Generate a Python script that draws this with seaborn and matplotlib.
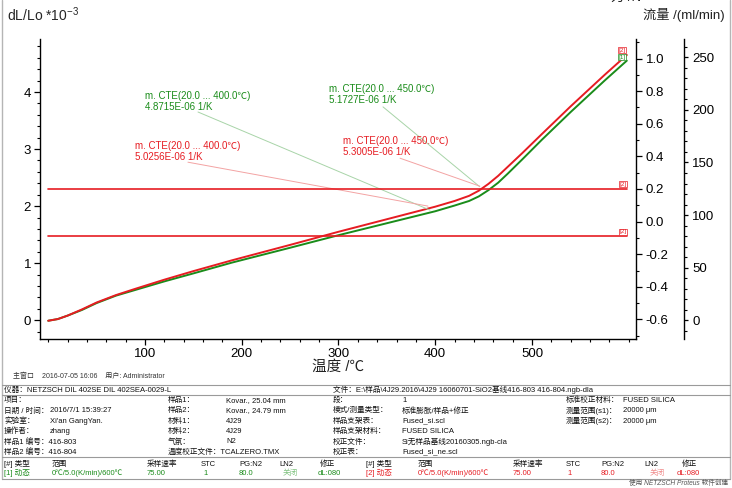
import numpy as np
import pandas as pd
import matplotlib
matplotlib.use("Agg")
import matplotlib.pyplot as plt
import seaborn as sns
from matplotlib.lines import Line2D
from matplotlib.ticker import MultipleLocator

# ---------------- data ----------------
temperature = [0, 10, 20, 35, 50, 70, 90, 120, 150, 190, 250, 300, 350, 400,
               420, 435, 445, 455, 465, 475, 490, 510, 540, 575, 598]
dl_sample1 = [-0.01, 0.02, 0.08, 0.18, 0.30, 0.43, 0.53, 0.68, 0.82, 1.01, 1.27,
              1.49, 1.70, 1.91, 2.01, 2.09, 2.17, 2.28, 2.41, 2.57, 2.82, 3.16,
              3.65, 4.20, 4.55]
dl_sample2 = [-0.01, 0.02, 0.08, 0.19, 0.31, 0.44, 0.55, 0.71, 0.86, 1.05, 1.32,
              1.55, 1.77, 1.99, 2.09, 2.18, 2.27, 2.39, 2.53, 2.69, 2.93, 3.26,
              3.75, 4.30, 4.65]
force_setpoint = [0.2, 0.2]      # N, sample [2] (sample [1] identical, hidden behind)
flow_setpoint = [80.0, 80.0]     # ml/min

x_ticks = [100, 200, 300, 400, 500]
y_ticks = [0, 1, 2, 3, 4]
force_ticks = [-0.6, -0.4, -0.2, 0.0, 0.2, 0.4, 0.6, 0.8, 1.0]
flow_ticks = [0, 50, 100, 150, 200, 250]

cte_texts = ["m. CTE(20.0 ... 400.0\u2103)\n4.8715E-06 1/K",
             "m. CTE(20.0 ... 400.0\u2103)\n5.0256E-06 1/K",
             "m. CTE(20.0 ... 450.0\u2103)\n5.1727E-06 1/K",
             "m. CTE(20.0 ... 450.0\u2103)\n5.3005E-06 1/K"]

GREEN = "#1a8c1a"
RED = "#e61c22"
LGREEN = "#a8d4a8"
LRED = "#f3a3a3"

# ---------------- style ----------------
sns.set_theme(style="ticks")
plt.rcParams["font.family"] = ["Liberation Sans", "Noto Sans CJK SC", "DejaVu Sans"]
plt.rcParams["mathtext.fontset"] = "custom"
plt.rcParams["mathtext.rm"] = "Liberation Sans"
plt.rcParams["axes.edgecolor"] = "black"
plt.rcParams["xtick.color"] = "black"
plt.rcParams["ytick.color"] = "black"

W, H = 732, 488
fig = plt.figure(figsize=(W / 100, H / 100), dpi=100)
fig.patch.set_facecolor("white")


def fx(x):
    return x / W


def fy(y):
    return 1 - y / H


L, R, T, B = 40, 636, 39, 339
ax = fig.add_axes([fx(L), fy(B), fx(R) - fx(L), fy(T) - fy(B)])
ax.set_facecolor("none")

df = pd.DataFrame({
    "T": temperature * 2,
    "dl": dl_sample1 + dl_sample2,
    "s": ["[1]"] * len(temperature) + ["[2]"] * len(temperature),
})
sns.lineplot(data=df, x="T", y="dl", hue="s", palette={"[1]": GREEN, "[2]": RED},
             sort=False, legend=False, lw=1.4, ax=ax, estimator=None)

ax.set_xlim(-8.5, 607.5)
ax.set_ylim(-0.33, 4.93)
ax.set_xlabel("")
ax.set_ylabel("")
ax.set_xticks(x_ticks)
ax.set_yticks(y_ticks)
ax.xaxis.set_minor_locator(MultipleLocator(20))
ax.yaxis.set_minor_locator(MultipleLocator(0.2))
for s in ["top", "right"]:
    ax.spines[s].set_visible(False)
for s in ["left", "bottom"]:
    ax.spines[s].set_linewidth(1.0)
ax.tick_params(which="major", length=4, width=0.9, labelsize=9.5, pad=2.5)
ax.tick_params(which="minor", length=2, width=0.8)

# force axis
ax2 = ax.twinx()
ax2.set_ylim(-0.72, 1.12)
ax2.set_yticks(force_ticks)
ax2.set_yticklabels([f"{v:.1f}" for v in force_ticks])
ax2.yaxis.set_minor_locator(MultipleLocator(0.1))
for s in ["top", "left", "bottom"]:
    ax2.spines[s].set_visible(False)
ax2.spines["right"].set_linewidth(1.0)
ax2.tick_params(which="major", length=4, width=0.9, labelsize=9.5, pad=3)
ax2.tick_params(which="minor", length=2, width=0.8)
sns.lineplot(x=[temperature[0], temperature[-1]], y=force_setpoint, color=RED,
             lw=1.2, ax=ax2)
ax2.set_ylabel("")

# flow axis
ax3 = ax.twinx()
ax3.spines["right"].set_position(("axes", (684 - L) / (R - L)))
ax3.set_ylim(-17.8, 267.4)
ax3.set_yticks(flow_ticks)
ax3.yaxis.set_minor_locator(MultipleLocator(10))
for s in ["top", "left", "bottom"]:
    ax3.spines[s].set_visible(False)
ax3.spines["right"].set_linewidth(1.0)
ax3.tick_params(which="major", length=3, width=0.9, labelsize=9.5, pad=3)
ax3.tick_params(which="minor", length=2, width=0.8)
sns.lineplot(x=[temperature[0], temperature[-1]], y=flow_setpoint, color=RED,
             lw=1.2, ax=ax3)
ax3.set_ylabel("")

# markers [1]/[2]
box = dict(boxstyle="square,pad=0.08", fc="white", lw=0.5)
ax2.annotate("[2]", (temperature[-1], force_setpoint[-1]), xytext=(0, 1.5),
             textcoords="offset points", ha="right", va="bottom", fontsize=4.5,
             color=RED, bbox=dict(box, ec=RED))
ax3.annotate("[2]", (temperature[-1], flow_setpoint[-1]), xytext=(0, 1.5),
             textcoords="offset points", ha="right", va="bottom", fontsize=4.5,
             color=RED, bbox=dict(box, ec=RED))
ax.annotate("[1]", (temperature[-1], dl_sample1[-1]), xytext=(-1, 0.5),
            textcoords="offset points", ha="right", va="bottom", fontsize=4.5,
            color=GREEN, bbox=dict(box, ec=GREEN), zorder=5)
ax.annotate("[2]", (temperature[-1], dl_sample2[-1]), xytext=(-1, 1.5),
            textcoords="offset points", ha="right", va="bottom", fontsize=4.5,
            color=RED, bbox=dict(box, ec=RED), zorder=6)

# CTE annotations
text_pos = [(100, 3.84), (89.7, 2.96), (290.5, 3.95), (305, 3.04)]
lead_start = [(154.8, 3.65), (144.4, 2.77), (346, 3.74), (363.6, 2.84)]
lead_end = [(394.6, 1.93), (392.5, 2.0), (446, 2.34), (446, 2.35)]
tcols = [GREEN, RED, GREEN, RED]
lcols = [LGREEN, LRED, LGREEN, LRED]
for txt, p, s0, s1, tc, lc in zip(cte_texts, text_pos, lead_start, lead_end, tcols, lcols):
    ax.text(p[0], p[1], txt, ha="left", va="center", fontsize=7, color=tc,
            linespacing=1.15)
    ax.annotate("", xy=s1, xytext=s0,
                arrowprops=dict(arrowstyle="-", color=lc, lw=0.7,
                                shrinkA=0, shrinkB=0))

# axis titles
fig.text(fx(7), fy(15), r"dL/Lo *10$^{\mathregular{-3}}$", ha="left", va="center",
         fontsize=10)
fig.text(fx(626), fy(-2), "\u529b /N", ha="center", va="center", fontsize=9.5,
         color="#222222")
fig.text(fx(684), fy(15), "\u6d41\u91cf /(ml/min)", ha="center", va="center",
         fontsize=9.5, color="#222222")
fig.text(fx(338), fy(367), "\u6e29\u5ea6 /\u2103", ha="center", va="center",
         fontsize=10.5, color="#222222")

# footer
fig.text(fx(13), fy(376), "\u4e3b\u7a97\u53e3    2016-07-05 16:06    \u7528\u6237: Administrator",
         ha="left", va="center", fontsize=5, color="#333333")

# frame and table lines
def hline(y, x0=2, x1=730, c="#9a9a9a", lw=0.8):
    fig.add_artist(Line2D([fx(x0), fx(x1)], [fy(y), fy(y)], color=c, lw=lw))


def vline(x, y0, y1, c="#b5b5b5", lw=1.0):
    fig.add_artist(Line2D([fx(x), fx(x)], [fy(y0), fy(y1)], color=c, lw=lw))


vline(2, 0, 479)
vline(730, 0, 479)
hline(385)
hline(395)
hline(457)
hline(479)

FS = 5.5


def t(x, y, s, c="#111111"):
    fig.text(fx(x), fy(y), s, ha="left", va="center", fontsize=FS, color=c)


t(4, 390, "\u4eea\u5668\uff1aNETZSCH DIL 402SE DIL 402SEA-0029-L")
t(333, 390, "\u6587\u4ef6\uff1aE:\\\u6837\u54c1\\4J29.2016\\4J29 16060701-SiO2\u57fa\u7ebf416-803 416-804.ngb-dla")

rows = [400.5, 410.8, 421.2, 431.5, 441.8, 452.0]
col1_lab = ["\u9879\u76ee\uff1a", "\u65e5\u671f / \u65f6\u95f4\uff1a", "\u5b9e\u9a8c\u5ba4\uff1a",
            "\u64cd\u4f5c\u8005\uff1a", "\u6837\u54c11 \u7f16\u53f7\uff1a416-803",
            "\u6837\u54c12 \u7f16\u53f7\uff1a416-804"]
col1_val = ["", "2016/7/1 15:39:27", "Xi'an GangYan.", "zhang", "", ""]
col2_lab = ["\u6837\u54c11\uff1a", "\u6837\u54c12\uff1a", "\u6750\u65991\uff1a", "\u6750\u65992\uff1a",
            "\u6c14\u6c1b\uff1a", "\u6e29\u5ea6\u6821\u6b63\u6587\u4ef6\uff1aTCALZERO.TMX"]
col2_val = ["Kovar., 25.04 mm", "Kovar., 24.79 mm", "4J29", "4J29", "N2", ""]
col3_lab = ["\u6bb5\uff1a", "\u6a21\u5f0f/\u6d4b\u91cf\u7c7b\u578b\uff1a", "\u6837\u54c1\u652f\u67b6\u8868\uff1a",
            "\u6837\u54c1\u652f\u67b6\u6750\u6599\uff1a", "\u6821\u6b63\u6587\u4ef6\uff1a", "\u6821\u6b63\u8868\uff1a"]
col3_val = ["1", "\u6807\u51c6\u81a8\u80c0/\u6837\u54c1+\u4fee\u6b63", "Fused_si.scl", "FUSED SILICA",
            "Si\u65e0\u6837\u54c1\u57fa\u7ebf20160305.ngb-cla", "Fused_si_ne.scl"]
col4_lab = ["\u6807\u51c6\u6821\u6b63\u6750\u6599\uff1a", "\u6d4b\u91cf\u8303\u56f4(s1)\uff1a",
            "\u6d4b\u91cf\u8303\u56f4(s2)\uff1a", "", "", ""]
col4_val = ["FUSED SILICA", "20000 \u03bcm", "20000 \u03bcm", "", "", ""]
for i, y in enumerate(rows):
    t(4, y, col1_lab[i])
    t(50, y, col1_val[i])
    t(168, y, col2_lab[i])
    t(226, y, col2_val[i])
    t(333, y, col3_lab[i])
    t(402, y, col3_val[i])
    t(566, y, col4_lab[i])
    t(623, y, col4_val[i])

head = ["[#] \u7c7b\u578b", "\u8303\u56f4", "\u91c7\u6837\u901f\u7387", "STC", "PG:N2", "LN2", "\u4fee\u6b63"]
run1 = ["[1] \u52a8\u6001", "0\u2103/5.0(K/min)/600\u2103", "75.00", "1", "80.0", "\u5173\u95ed", "dL:080"]
run2 = ["[2] \u52a8\u6001", "0\u2103/5.0(K/min)/600\u2103", "75.00", "1", "80.0", "\u5173\u95ed", "dL:080"]
hx1 = [4, 51.7, 146.7, 201, 239, 279, 320]
rx1 = [4, 51.7, 146.7, 203, 239, 283, 318]
hx2 = [366, 417.7, 512.7, 565.3, 601, 644.3, 682]
rx2 = [366, 417.7, 512.7, 567, 601, 650, 677]
for i in range(7):
    t(hx1[i], 464, head[i])
    t(hx2[i], 464, head[i])
    t(rx1[i], 473.3, run1[i], GREEN if i != 5 else "#7fc27f")
    t(rx2[i], 473.3, run2[i], RED if i != 5 else "#f08a8a")

fig.text(fx(629), fy(483), "\u4f7f\u7528 NETZSCH Proteus \u8f6f\u4ef6\u521b\u5efa", ha="left",
         va="center", fontsize=4.8, color="#555555", style="italic")

fig.savefig("out.png", dpi=100)
